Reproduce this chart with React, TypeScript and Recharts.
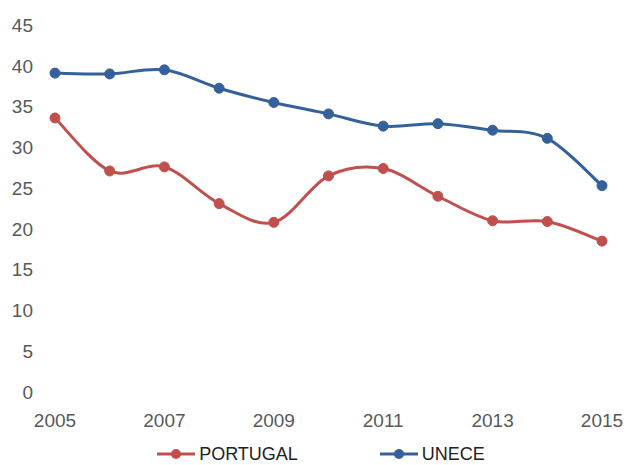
import React from 'react';
import { LineChart, Line, XAxis, YAxis, Legend } from 'recharts';

const years = [2005, 2006, 2007, 2008, 2009, 2010, 2011, 2012, 2013, 2014, 2015];
const portugal = [33.6, 27.1, 27.6, 23.1, 20.8, 26.5, 27.4, 24.0, 21.0, 20.9, 18.5];
const unece = [39.1, 39.0, 39.5, 37.25, 35.5, 34.1, 32.6, 32.9, 32.1, 31.1, 25.3];
const xTicks = [2005, 2007, 2009, 2011, 2013, 2015];
const yTicks = [0, 5, 10, 15, 20, 25, 30, 35, 40, 45];

const RED = '#C0504D';
const BLUE = '#35619A';
const FONT = '"Liberation Sans", Arial, sans-serif';

const data = years.map((y, i) => ({ year: y, PORTUGAL: portugal[i], UNECE: unece[i] }));

// Catmull-Rom style smoothing, similar to spreadsheet "smoothed line"
function smoothCurve(context: any) {
  let pts: number[][] = [];
  return {
    areaStart() {},
    areaEnd() {},
    lineStart() {
      pts = [];
    },
    lineEnd() {
      if (!pts.length) return;
      context.moveTo(pts[0][0], pts[0][1]);
      for (let i = 0; i < pts.length - 1; i++) {
        const p0 = pts[i - 1] || pts[i];
        const p1 = pts[i];
        const p2 = pts[i + 1];
        const p3 = pts[i + 2] || pts[i + 1];
        const c1x = p1[0] + (p2[0] - p0[0]) / 6;
        const c1y = p1[1] + (p2[1] - p0[1]) / 6;
        const c2x = p2[0] - (p3[0] - p1[0]) / 6;
        const c2y = p2[1] - (p3[1] - p1[1]) / 6;
        context.bezierCurveTo(c1x, c1y, c2x, c2y, p2[0], p2[1]);
      }
    },
    point(x: number, y: number) {
      pts.push([+x, +y]);
    },
  };
}

const LegendContent = () => {
  const items = [
    { name: 'PORTUGAL', color: RED },
    { name: 'UNECE', color: BLUE },
  ];
  return (
    <div style={{ display: 'flex', justifyContent: 'center', gap: 82, fontFamily: FONT, paddingLeft: 16 }}>
      {items.map((it) => (
        <div key={it.name} style={{ display: 'flex', alignItems: 'center', height: 18 }}>
          <svg width={40} height={14} style={{ marginRight: 2 }}>
            <line x1={0} y1={7} x2={38} y2={7} stroke={it.color} strokeWidth={3} />
            <circle cx={19} cy={7} r={5} fill={it.color} />
          </svg>
          <span style={{ fontSize: 18, color: '#222', lineHeight: '18px' }}>{it.name}</span>
        </div>
      ))}
    </div>
  );
};

export default function App() {
  return (
    <div style={{ position: 'absolute', left: 0, top: 0, background: '#fff' }}>
      <LineChart width={626} height={465} data={data} margin={{ top: 25, right: 24, bottom: 43, left: 0 }}>
        <XAxis
          dataKey="year"
          type="number"
          domain={[2005, 2015]}
          ticks={xTicks}
          height={30}
          axisLine={false}
          tickLine={false}
          tickSize={0}
          tickMargin={22}
          tick={{ fill: '#595959', fontSize: 19, fontFamily: FONT }}
          interval={0}
        />
        <YAxis
          domain={[0, 45]}
          ticks={yTicks}
          width={55}
          axisLine={false}
          tickLine={false}
          tickSize={0}
          tickMargin={22}
          tick={{ fill: '#595959', fontSize: 19, fontFamily: FONT }}
          interval={0}
        />
        <Legend
          verticalAlign="middle"
          layout="horizontal"
          content={<LegendContent />}
          wrapperStyle={{ position: 'absolute', top: 445, left: 0, width: 626 }}
        />
        <Line
          dataKey="PORTUGAL"
          type={smoothCurve as any}
          stroke={RED}
          strokeWidth={3}
          dot={{ r: 5, fill: RED, stroke: RED, strokeWidth: 1 }}
          activeDot={false}
          isAnimationActive={false}
        />
        <Line
          dataKey="UNECE"
          type={smoothCurve as any}
          stroke={BLUE}
          strokeWidth={3}
          dot={{ r: 5, fill: BLUE, stroke: BLUE, strokeWidth: 1 }}
          activeDot={false}
          isAnimationActive={false}
        />
      </LineChart>
    </div>
  );
}
